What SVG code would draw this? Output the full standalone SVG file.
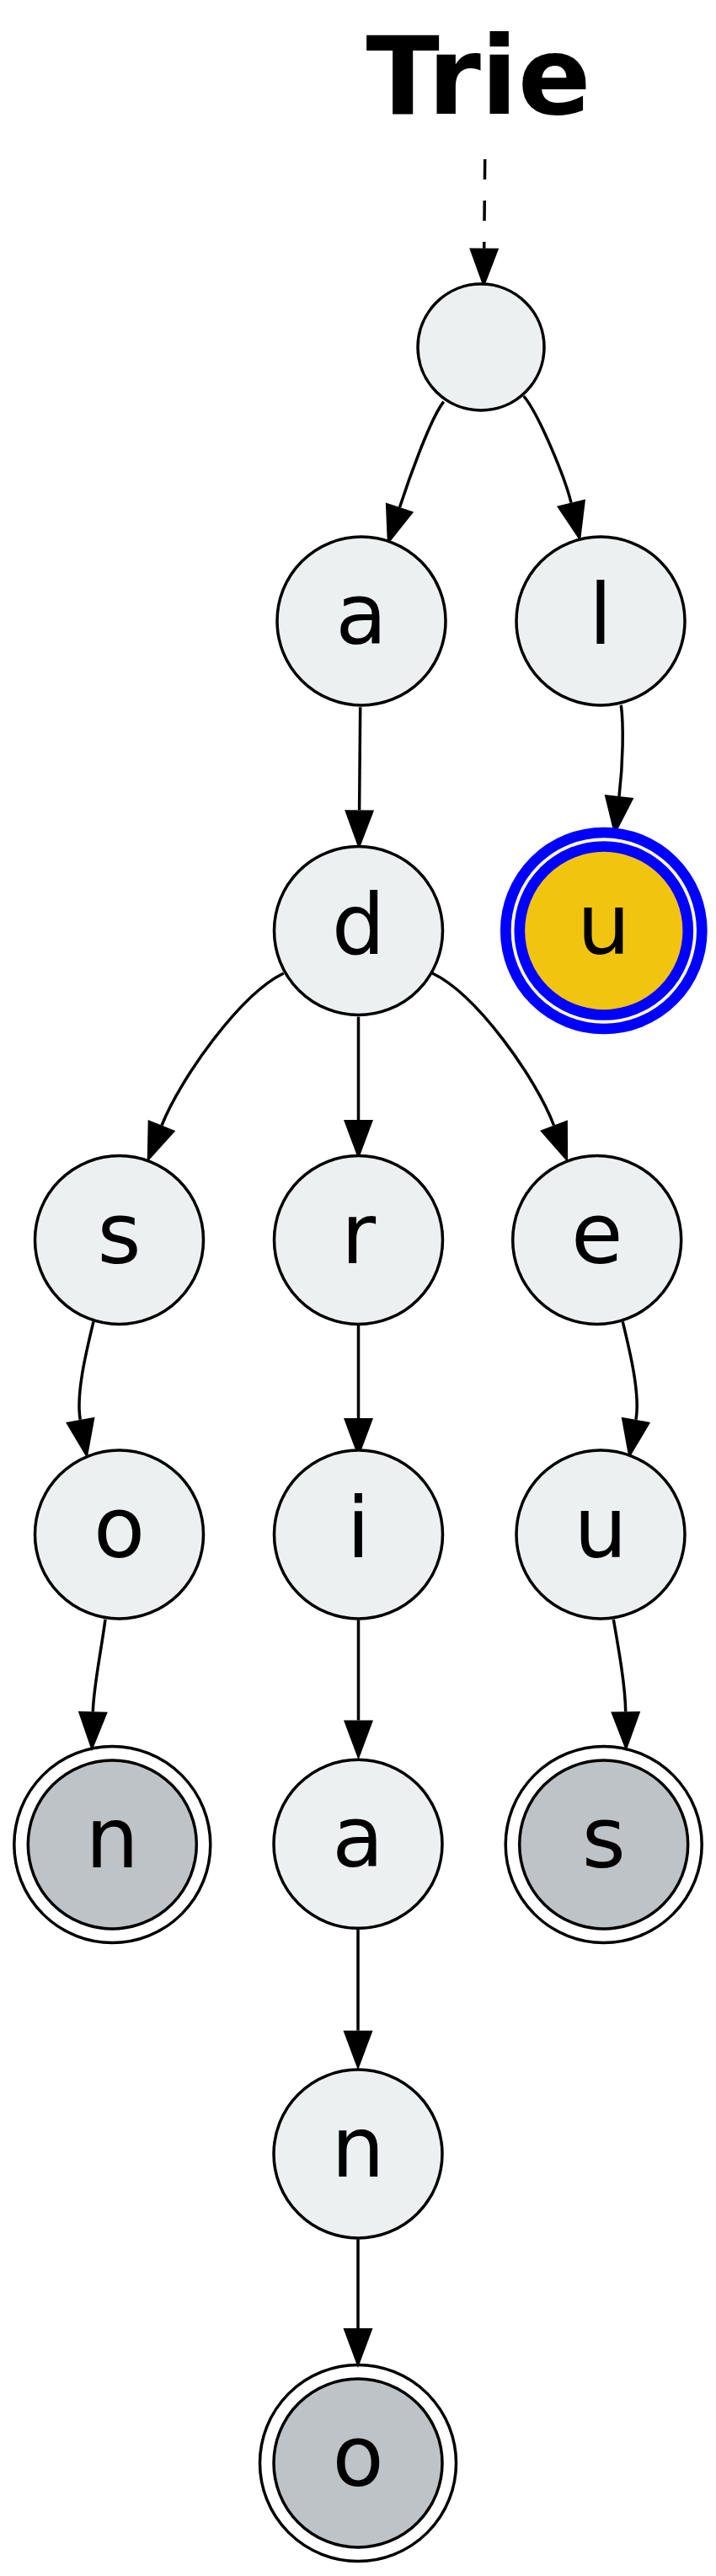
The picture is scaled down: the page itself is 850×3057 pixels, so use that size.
<svg xmlns="http://www.w3.org/2000/svg" width="850" height="3057" viewBox="0 0 850 3057">
<style>
.n{fill:#ecf0f1;stroke:#000;stroke-width:3.5}
.g{fill:#bdc3c7;stroke:#000;stroke-width:3.5}
.ring{fill:none;stroke:#000;stroke-width:3.5}
.y{fill:#f1c40f;stroke:#0000ff;stroke-width:12.7}
.yring{fill:none;stroke:#0000ff;stroke-width:12.7}
.lbl{font-family:"DejaVu Sans","Liberation Sans",sans-serif;font-size:100px;text-anchor:middle;fill:#000}
.e{fill:none;stroke:#000;stroke-width:3.5;marker-end:url(#arr)}
.title{font-family:"DejaVu Sans","Liberation Sans",sans-serif;font-weight:bold;font-size:128px;text-anchor:middle;fill:#000}
</style>
<defs>
<marker id="arr" markerUnits="userSpaceOnUse" markerWidth="50" markerHeight="36" refX="0" refY="18" orient="auto" overflow="visible">
<path d="M0,0.5 L47,18 L0,35.5 Z" fill="#000"/>
</marker>
</defs>
<rect width="850" height="3057" fill="#fff"/>
<text class="title" x="568" y="135">Trie</text>
<g id="edges">
<path class="e" d="M575.7,189 L574.7,294.7" stroke-dasharray="24,25"/>
<path class="e" d="M526.7,476.7 C510,498 483.8,573.5 474.5,602"/>
<path class="e" d="M621.7,470 C640,492 671,567.5 678,596.7"/>
<path class="e" d="M427.7,839.3 L426.6,961.3"/>
<path class="e" d="M737.3,836.7 C740.5,860 739.7,905.2 735,945"/>
<path class="e" d="M336.7,1155 C285,1180 214.1,1279.8 192,1335.5"/>
<path class="e" d="M425.5,1206.7 L425.5,1329"/>
<path class="e" d="M513.3,1155 C566,1180 636.3,1279.4 657.5,1335.5"/>
<path class="e" d="M111,1568.3 C102,1605 90,1655.2 95.3,1684.8"/>
<path class="e" d="M425.5,1573 L425.5,1683"/>
<path class="e" d="M739.2,1568.3 C748.2,1605 760.2,1655.2 754.9,1684.8"/>
<path class="e" d="M125,1921.7 C120,1960 111.1,2001.3 110.3,2031.3"/>
<path class="e" d="M425.5,1922.5 L425.5,2041.5"/>
<path class="e" d="M728.3,1921.7 C735,1960 742.3,2001.3 742.7,2031.3"/>
<path class="e" d="M425,2289.3 L425,2409.7"/>
<path class="e" d="M425,2657.3 L425,2763"/>
</g>
<g id="node-root"><circle class="n" cx="571" cy="412" r="75"/></g>
<g id="node-a"><circle class="n" cx="429" cy="737" r="100"/><text class="lbl" x="429" y="764">a</text></g>
<g id="node-l"><circle class="n" cx="713" cy="737" r="100"/><text class="lbl" x="713" y="764">l</text></g>
<g id="node-d"><circle class="n" cx="425.5" cy="1104.5" r="100"/><text class="lbl" x="425.5" y="1131.5">d</text></g>
<g id="node-lu"><circle class="yring" cx="716.8" cy="1104.5" r="116.5"/><circle class="y" cx="716.8" cy="1104.5" r="100"/><text class="lbl" x="716.8" y="1131.5">u</text></g>
<g id="node-s"><circle class="n" cx="141.5" cy="1471.5" r="100"/><text class="lbl" x="141.5" y="1498.5">s</text></g>
<g id="node-r"><circle class="n" cx="425.5" cy="1471.5" r="100"/><text class="lbl" x="425.5" y="1498.5">r</text></g>
<g id="node-e"><circle class="n" cx="708.7" cy="1471.5" r="100"/><text class="lbl" x="708.7" y="1498.5">e</text></g>
<g id="node-o"><circle class="n" cx="141.5" cy="1821" r="100"/><text class="lbl" x="141.5" y="1848">o</text></g>
<g id="node-i"><circle class="n" cx="425.5" cy="1821" r="100"/><text class="lbl" x="425.5" y="1848">i</text></g>
<g id="node-u"><circle class="n" cx="713" cy="1821" r="100"/><text class="lbl" x="713" y="1848">u</text></g>
<g id="node-n"><circle class="ring" cx="133.3" cy="2189" r="116.5"/><circle class="g" cx="133.3" cy="2189" r="100"/><text class="lbl" x="133.3" y="2216">n</text></g>
<g id="node-a2"><circle class="n" cx="425" cy="2188.3" r="100"/><text class="lbl" x="425" y="2215.3">a</text></g>
<g id="node-s2"><circle class="ring" cx="716.7" cy="2189" r="116.5"/><circle class="g" cx="716.7" cy="2189" r="100"/><text class="lbl" x="716.7" y="2216">s</text></g>
<g id="node-n2"><circle class="n" cx="425" cy="2556" r="100"/><text class="lbl" x="425" y="2583">n</text></g>
<g id="node-o2"><circle class="ring" cx="425" cy="2923" r="116.5"/><circle class="g" cx="425" cy="2923" r="100"/><text class="lbl" x="425" y="2950">o</text></g>
</svg>
